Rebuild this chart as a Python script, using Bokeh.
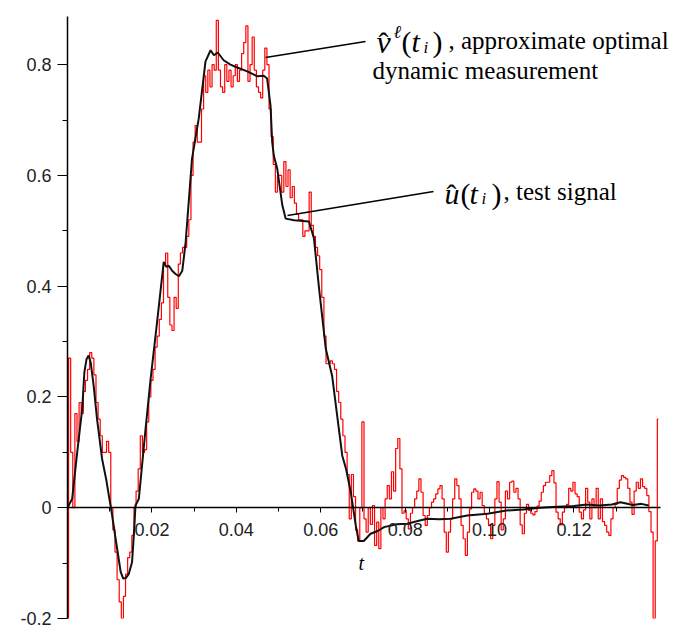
import numpy as np
from bokeh.plotting import figure
from bokeh.models import Range1d, FixedTicker, Label
from bokeh.embed import file_html
from bokeh.resources import INLINE

# approximate optimal dynamic measurement, sampled every 0.0005 s
t_step = 0.0005
v_hat = [
    -0.20, 0.27, 0.10, 0.00, 0.17, 0.12, 0.19, 0.17, 0.21, 0.23,
    0.25, 0.28, 0.27, 0.24, 0.19, 0.16, 0.13, 0.10, 0.10, 0.12,
    0.10, 0.00, -0.04, -0.08, -0.13, -0.17, -0.20, -0.16, -0.12, -0.09,
    -0.08, -0.05, 0.00, 0.03, 0.07, 0.13, 0.10, 0.105, 0.155, 0.20,
    0.23, 0.25, 0.29, 0.31, 0.34, 0.37, 0.44, 0.46, 0.38, 0.33,
    0.32, 0.38, 0.36, 0.44, 0.46, 0.47, 0.47, 0.49, 0.52, 0.60,
    0.66, 0.69, 0.66, 0.66, 0.72, 0.78, 0.75, 0.79, 0.76, 0.80,
    0.79, 0.88, 0.79, 0.76, 0.75, 0.80, 0.77, 0.79, 0.76, 0.78,
    0.80, 0.77, 0.79, 0.82, 0.84, 0.87, 0.77, 0.80, 0.85, 0.79,
    0.76, 0.75, 0.74, 0.79, 0.83, 0.80, 0.72, 0.67, 0.62, 0.57,
    0.60, 0.60, 0.57, 0.625, 0.58, 0.61, 0.56, 0.58, 0.55, 0.53,
    0.52, 0.52, 0.49, 0.50, 0.50, 0.57, 0.51, 0.49, 0.47, 0.455,
    0.43, 0.38, 0.31, 0.26, 0.26, 0.265, 0.26, 0.25, 0.21, 0.19,
    0.16, 0.13, 0.10, 0.06, -0.02, 0.06, 0.02, -0.04, -0.06, 0.00,
    0.155, -0.02, -0.044, 0.00, -0.03, 0.004, -0.068, -0.026, -0.074, 0.00,
    -0.02, 0.016, 0.04, 0.016, 0.065, 0.03, 0.107, 0.125, 0.07, -0.01,
    -0.005, -0.02, -0.038, -0.01, 0.00, 0.016, 0.03, 0.052, 0.028, -0.014,
    -0.032, -0.014, 0.00, 0.01, 0.016, 0.025, 0.034, 0.04, 0.016, -0.044,
    -0.08, -0.044, -0.02, 0.016, 0.052, 0.04, 0.016, -0.032, -0.056, -0.086,
    -0.044, -0.002, 0.028, 0.034, 0.03, 0.016, 0.028, 0.004, -0.01, -0.02,
    -0.032, -0.056, -0.032, 0.016, 0.047, 0.01, -0.04, -0.02, 0.03, 0.016,
    0.046, 0.048, 0.028, 0.035, 0.016, -0.031, -0.047, -0.01, 0.006, -0.005,
    -0.01, -0.013, -0.007, 0.003, 0.012, 0.028, 0.04, 0.046, 0.046, 0.058,
    0.067, 0.045, -0.008, -0.02, -0.031, -0.008, 0.00, 0.006, 0.035, 0.03,
    0.046, 0.025, 0.02, -0.008, -0.02, -0.004, 0.035, 0.01, -0.02, 0.016,
    0.00, 0.035, -0.02, 0.016, -0.025, -0.032, -0.044, -0.05, -0.02, 0.00,
    0.006, 0.035, 0.05, 0.058, 0.055, 0.052, 0.035, 0.01, -0.012, 0.03,
    0.046, 0.035, 0.052, 0.038, 0.035, 0.022, -0.007, -0.044, -0.20, -0.06,
    0.16,
]
t_v = [round(i * t_step, 4) for i in range(len(v_hat))]

# test signal
u_t = [
    0.0, 0.0011, 0.0023, 0.0035, 0.0040, 0.0045, 0.0050, 0.0055, 0.0062, 0.0070,
    0.0082, 0.0092, 0.0098, 0.0104, 0.0114, 0.0126, 0.0132, 0.0138, 0.0145, 0.0153,
    0.0158, 0.0161, 0.0169, 0.0185, 0.0197, 0.0213, 0.0228, 0.0234, 0.0240, 0.0248,
    0.0256, 0.0264, 0.0272, 0.0280, 0.0295, 0.0311, 0.0327, 0.0339, 0.0347, 0.0356,
    0.0370, 0.0386, 0.0402, 0.0426, 0.0450, 0.0465, 0.0473, 0.0481, 0.0485, 0.0489,
    0.0497, 0.0509, 0.0517, 0.0537, 0.0572, 0.0584, 0.0596, 0.0612, 0.0627, 0.0639,
    0.0651, 0.0660, 0.0671, 0.0683, 0.0690, 0.0702, 0.0718, 0.0735, 0.0750, 0.0780,
    0.0805, 0.0830, 0.0852, 0.0880, 0.0908, 0.0947, 0.0995, 0.1040, 0.1080, 0.1120,
    0.1160, 0.1200, 0.1230, 0.1260, 0.1290, 0.1310, 0.1340, 0.1360, 0.1377,
]
u_hat = [
    0.0, 0.016, 0.10, 0.18, 0.245, 0.268, 0.275, 0.262, 0.22, 0.16,
    0.088, 0.05, 0.022, -0.005, -0.056, -0.116, -0.128, -0.127, -0.12, -0.098,
    -0.04, 0.004, 0.016, 0.143, 0.233, 0.34, 0.444, 0.435, 0.437, 0.428,
    0.422, 0.418, 0.428, 0.48, 0.63, 0.703, 0.806, 0.826, 0.817, 0.822,
    0.808, 0.80, 0.795, 0.788, 0.779, 0.78, 0.775, 0.726, 0.66, 0.635,
    0.612, 0.546, 0.522, 0.519, 0.517, 0.486, 0.396, 0.287, 0.238, 0.166,
    0.094, 0.07, 0.029, -0.032, -0.06, -0.06, -0.047, -0.042, -0.035, -0.03,
    -0.029, -0.024, -0.02, -0.021, -0.02, -0.014, -0.011, -0.005, -0.003, 0.0,
    0.002, 0.003, 0.006, 0.004, 0.006, 0.01, 0.005, 0.007, 0.004,
]

x_major = [0.02, 0.04, 0.06, 0.08, 0.10, 0.12]
x_minor = [0.01, 0.03, 0.05, 0.07, 0.09, 0.11, 0.13]
x_labels = ["0.02", "0.04", "0.06", "0.08", "0.10", "0.12"]
y_major = [-0.2, 0, 0.2, 0.4, 0.6, 0.8]
y_minor = [-0.1, 0.1, 0.3, 0.5, 0.7]
y_labels = ["-0.2", "0", "0.2", "0.4", "0.6", "0.8"]

# the time axis line stops at T_END; the frame runs on to the right edge
T_END = 0.1405
LEFT, TOP, AXIS_W, FW, FH = 67, 16, 593, 613, 602
X0, X1 = 0.0, T_END * FW / AXIS_W
Y0, Y1 = -0.2, 0.887

p = figure(frame_width=FW, frame_height=FH,
           x_range=Range1d(X0, X1), y_range=Range1d(Y0, Y1),
           output_backend="svg", toolbar_location=None,
           min_border_left=LEFT, min_border_right=0,
           min_border_top=TOP, min_border_bottom=11)
p.grid.visible = False
p.outline_line_color = None
p.background_fill_color = "white"
p.border_fill_color = "white"

tick_font = dict(major_label_text_font="'Liberation Sans', Arial, sans-serif",
                 major_label_text_font_size="18px",
                 major_label_text_color="#222222")

xa = p.xaxis[0]
xa.fixed_location = 0
xa.bounds = (X0, T_END)
xa.ticker = FixedTicker(ticks=x_major, minor_ticks=x_minor)
xa.major_label_overrides = dict(zip(x_major, x_labels))
xa.axis_line_color = "black"
xa.axis_line_width = 1.5
xa.major_tick_in = 0
xa.major_tick_out = 5
xa.minor_tick_in = 0
xa.minor_tick_out = 4
xa.major_tick_line_color = "black"
xa.minor_tick_line_color = "black"
xa.major_label_standoff = 10
for k, v in tick_font.items():
    setattr(xa, k, v)

ya = p.yaxis[0]
ya.ticker = FixedTicker(ticks=y_major, minor_ticks=y_minor)
ya.major_label_overrides = dict(zip(y_major, y_labels))
ya.axis_line_color = "black"
ya.axis_line_width = 1.5
ya.major_tick_in = 0
ya.major_tick_out = 10
ya.minor_tick_in = 0
ya.minor_tick_out = 5
ya.major_tick_line_color = "black"
ya.minor_tick_line_color = "black"
ya.major_label_standoff = 6
for k, v in tick_font.items():
    setattr(ya, k, v)

p.step(t_v, v_hat, mode="center", line_color="#ff0000", line_width=1.2)
p.line(u_t, u_hat, line_color="#111111", line_width=2)


def at(px, py):
    """Canvas pixel position -> data coordinates of the frame."""
    return (X0 + (px - LEFT) / FW * (X1 - X0),
            Y1 - (py - TOP) / FH * (Y1 - Y0))


# leader lines from the curves to their captions
lead_from = [at(265, 57), at(287, 215)]
lead_to = [at(365, 41), at(433, 191)]
p.segment(x0=[a[0] for a in lead_from], y0=[a[1] for a in lead_from],
          x1=[b[0] for b in lead_to], y1=[b[1] for b in lead_to],
          line_color="black", line_width=1.3)

SERIF = "'Liberation Serif', 'Times New Roman', serif"
MATH = "Times"
pieces = [
    # v-hat^l(t_i), approximate optimal dynamic measurement
    ("v", 376, 41, "32px", "italic", MATH),
    ("\u02c6", 378, 42, "30px", "normal", SERIF),
    ("\u2113", 393, 31, "18px", "italic", MATH),
    ("(", 401, 41, "30px", "normal", SERIF),
    ("t", 411, 41, "30px", "italic", MATH),
    ("i", 423, 47, "17px", "italic", MATH),
    (")", 432, 41, "30px", "normal", SERIF),
    (", approximate optimal", 448, 40, "25px", "normal", SERIF),
    ("dynamic measurement", 372, 70, "25px", "normal", SERIF),
    # u-hat(t_i), test signal
    ("u", 444, 193, "30px", "italic", MATH),
    ("\u02c6", 446, 194, "30px", "normal", SERIF),
    ("(", 460, 193, "30px", "normal", SERIF),
    ("t", 469, 193, "30px", "italic", MATH),
    ("i", 481, 198, "17px", "italic", MATH),
    (")", 491, 193, "30px", "normal", SERIF),
    (", test signal", 503, 191, "25px", "normal", SERIF),
    # time axis name
    ("t", 358, 562, "20px", "italic", MATH),
]
for txt, px, py, size, style, font in pieces:
    x, y = at(px, py)
    p.add_layout(Label(x=x, y=y, text=txt, text_font=font,
                       text_font_size=size, text_font_style=style,
                       text_color="black", text_align="left",
                       text_baseline="alphabetic"))

open("out.html", "w").write(file_html(p, INLINE))
